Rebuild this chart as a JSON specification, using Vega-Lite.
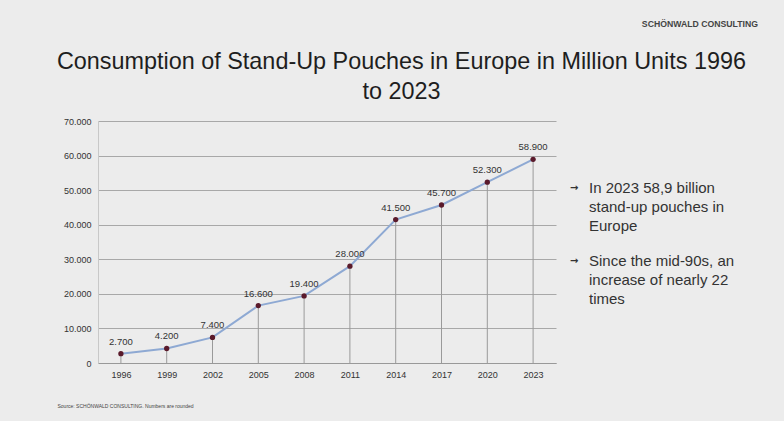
{
  "$schema": "https://vega.github.io/schema/vega-lite/v6.json",
  "background": "#ececec",
  "padding": {"left": 56, "top": 20, "right": 27, "bottom": 16},
  "config": {
    "font": "Liberation Sans",
    "locale": {"number": {"decimal": ",", "thousands": ".", "grouping": [3], "currency": ["", " €"]}},
    "view": {"stroke": null},
    "concat": {"spacing": 11}
  },
  "title": {
    "text": ["Consumption of Stand-Up Pouches in Europe in Million Units 1996", "to 2023"],
    "fontSize": 23.4,
    "fontWeight": "normal",
    "color": "#1e1e1e",
    "lineHeight": 30,
    "anchor": "middle",
    "frame": "bounds",
    "offset": -84,
    "dx": -6
  },
  "hconcat": [
    {
      "width": 458,
      "height": 242,
      "data": {"values": [
        {"year": "1996", "value": 2700},
        {"year": "1999", "value": 4200},
        {"year": "2002", "value": 7400},
        {"year": "2005", "value": 16600},
        {"year": "2008", "value": 19400},
        {"year": "2011", "value": 28000},
        {"year": "2014", "value": 41500},
        {"year": "2017", "value": 45700},
        {"year": "2020", "value": 52300},
        {"year": "2023", "value": 58900}
      ]},
      "encoding": {
        "x": {
          "field": "year", "type": "ordinal",
          "scale": {"type": "point", "padding": 0.5},
          "axis": {
            "labelAngle": 0, "labelFontSize": 9, "labelColor": "#333", "labelPadding": 7,
            "ticks": false, "domainColor": "#999",
            "title": "Source: SCHÖNWALD CONSULTING. Numbers are rounded",
            "titleFontSize": 5, "titleFontWeight": "normal", "titleColor": "#444",
            "titleAnchor": "start", "titleAlign": "left", "titleBaseline": "middle",
            "titleX": -41, "titleY": 42
          }
        },
        "y": {
          "field": "value", "type": "quantitative",
          "scale": {"domain": [0, 70000]},
          "axis": {
            "values": [0, 10000, 20000, 30000, 40000, 50000, 60000, 70000],
            "labelOverlap": false,
            "format": ",.0f", "labelFontSize": 9, "labelColor": "#333", "labelPadding": 7,
            "ticks": false, "domainColor": "#c8c8c8", "gridColor": "#a8a8a8",
            "title": null
          }
        }
      },
      "layer": [
        {
          "mark": {"type": "rule", "color": "#9a9a9a", "strokeWidth": 1},
          "encoding": {"y2": {"datum": 0}}
        },
        {
          "mark": {"type": "line", "color": "#8ea9d3", "strokeWidth": 2},
          "encoding": {}
        },
        {
          "mark": {"type": "point", "filled": true, "color": "#5a1a2b", "size": 28, "opacity": 1},
          "encoding": {}
        },
        {
          "mark": {"type": "text", "dy": -12, "fontSize": 9.5, "color": "#333"},
          "encoding": {
            "text": {"field": "value", "type": "quantitative", "format": ",.0f"}
          }
        }
      ]
    },
    {
      "width": 191,
      "height": 217,
      "title": {
        "text": "SCHÖNWALD CONSULTING",
        "fontSize": 8.7, "fontWeight": "bold", "color": "#444",
        "anchor": "end", "offset": 92
      },
      "data": {"values": [
        {"item": 1, "lines": ["In 2023 58,9 billion", "stand-up pouches in", "Europe"]},
        {"item": 2, "lines": ["Since the mid-90s, an", "increase of nearly 22", "times"]}
      ]},
      "encoding": {
        "y": {"field": "item", "type": "ordinal", "scale": {"type": "point", "padding": 1.05}, "axis": null},
        "x": {"value": 0}
      },
      "layer": [
        {
          "mark": {"type": "text", "align": "left", "baseline": "alphabetic", "font": "DejaVu Sans", "fontWeight": "bold", "fontSize": 10, "color": "#333", "dx": 3, "dy": -2},
          "encoding": {"text": {"value": "→"}}
        },
        {
          "mark": {"type": "text", "align": "left", "baseline": "alphabetic", "fontSize": 15, "color": "#333", "lineHeight": 19, "dx": 22},
          "encoding": {"text": {"field": "lines"}}
        }
      ]
    }
  ]
}
